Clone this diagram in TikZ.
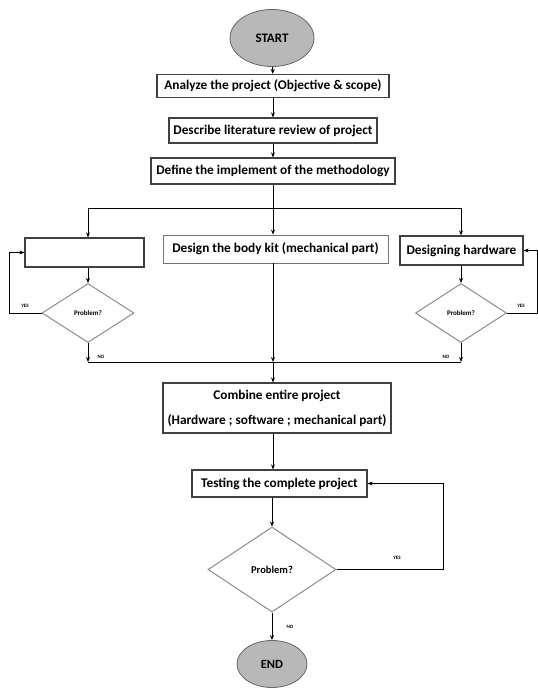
\documentclass[tikz,border=0pt]{standalone}
\usepackage{fontspec}
\setmainfont{Carlito}
\usetikzlibrary{shapes.geometric,arrows.meta}

\begin{document}
\begin{tikzpicture}[x=1pt, y=-1pt, line width=.9pt, >={Stealth[length=5pt,width=4pt]},
    box/.style={draw=black!75, line width=1.2pt, fill=white, inner sep=0pt, align=center, font=\bfseries\fontsize{13.3}{25}\selectfont},
    decision/.style={diamond, draw=black!45, line width=1pt, inner sep=0pt, font=\bfseries\fontsize{7}{8}\selectfont},
    term/.style={ellipse, draw=black!60, fill=black!28, line width=.8pt, inner sep=0pt, font=\bfseries\fontsize{13}{15}\selectfont},
    tag/.style={font=\bfseries\fontsize{5}{6}\selectfont}]
    \useasboundingbox (0,0) rectangle (538,688);

    % main column
    \node[term, minimum width=84pt, minimum height=57pt] (start) at (272,38) {START};
    \node[box, minimum width=232pt, minimum height=23pt] (analyze) at (273,86) {Analyze the project (Objective \& scope)};
    \node[box, minimum width=208pt, minimum height=25pt] (review) at (273,130.5) {Describe literature review of project};
    \node[box, minimum width=244pt, minimum height=26pt] (define) at (273,171) {Define the implement of the methodology};

    % three branches
    \node[box, minimum width=119pt, minimum height=29pt] (soft) at (84.5,252.5) {};
    \node[box, draw=black!55, line width=.8pt, minimum width=225pt, minimum height=28pt] (body) at (275.5,249) {Design the body kit (mechanical part)};
    \node[box, minimum width=123pt, minimum height=29pt] (hard) at (461.5,250.5) {Designing hardware};
    \node[decision, minimum width=92pt, minimum height=59pt] (probL) at (88,313) {Problem?};
    \node[decision, minimum width=91pt, minimum height=59pt] (probR) at (461,313) {Problem?};

    % combine and test
    \node[box, minimum width=228pt, minimum height=50pt] (combine) at (277,408) {Combine entire project\\(Hardware ; software ; mechanical part)};
    \node[box, minimum width=175pt, minimum height=27pt] (testing) at (279.5,483.5) {Testing the complete project};
    \node[decision, minimum width=128pt, minimum height=85pt, font=\bfseries\fontsize{10.5}{12}\selectfont] (probT) at (272,569.5) {Problem?};
    \node[term, minimum width=70pt, minimum height=47pt, font=\bfseries\fontsize{12.5}{14}\selectfont] (end) at (272,664) {END};

    \coordinate (splitL) at (88,208);
    \coordinate (splitR) at (461,208);
    \coordinate (mergeL) at (88,362);
    \coordinate (mergeR) at (461,362);
    \coordinate (merge) at (273,362);
    \coordinate (loopL) at (9,313);
    \coordinate (loopR) at (537,313);
    \coordinate (loopT) at (443,569.5);

    \draw[->] (start) -- (analyze);
    \draw[->] (analyze) -- (review);
    \draw[->] (review) -- (define);
    \draw (splitL) -- (splitR);
    \draw[->] (define) -- (define |- body.north);
    \draw[->] (splitL) -- (splitL |- soft.north);
    \draw[->] (splitR) -- (splitR |- hard.north);
    \draw[->] (soft.south -| probL) -- (probL);
    \draw[->] (hard.south -| probR) -- (probR);

    % side loops
    \draw[->] (probL.west) -- (loopL) |- (soft.west);
    \draw[->] (probR.east) -- (loopR) |- (hard.east);
    \node[tag] (yesL) at (25,306) {YES};
    \node[tag] (yesR) at (521,306) {YES};

    \draw (mergeL) -- (mergeR);
    \draw[->] (probL) -- (mergeL);
    \draw[->] (probR) -- (mergeR);
    \node[tag] (noL) at (101,357) {NO};
    \node[tag] (noR) at (446,357) {NO};
    \draw[->] (merge |- body.south) -- (merge);
    \draw[->] (merge) -- (merge |- combine.north);

    \draw[->] (merge |- combine.south) -- (merge |- testing.north);
    \draw[->] (probT |- testing.south) -- (probT);
    \draw[->] (probT.east) -- (loopT) |- (testing.east);
    \node[tag] (yesT) at (397,558) {YES};
    \draw[->] (probT) -- (end);
    \node[tag] (noT) at (290,627) {NO};
\end{tikzpicture}
\end{document}
